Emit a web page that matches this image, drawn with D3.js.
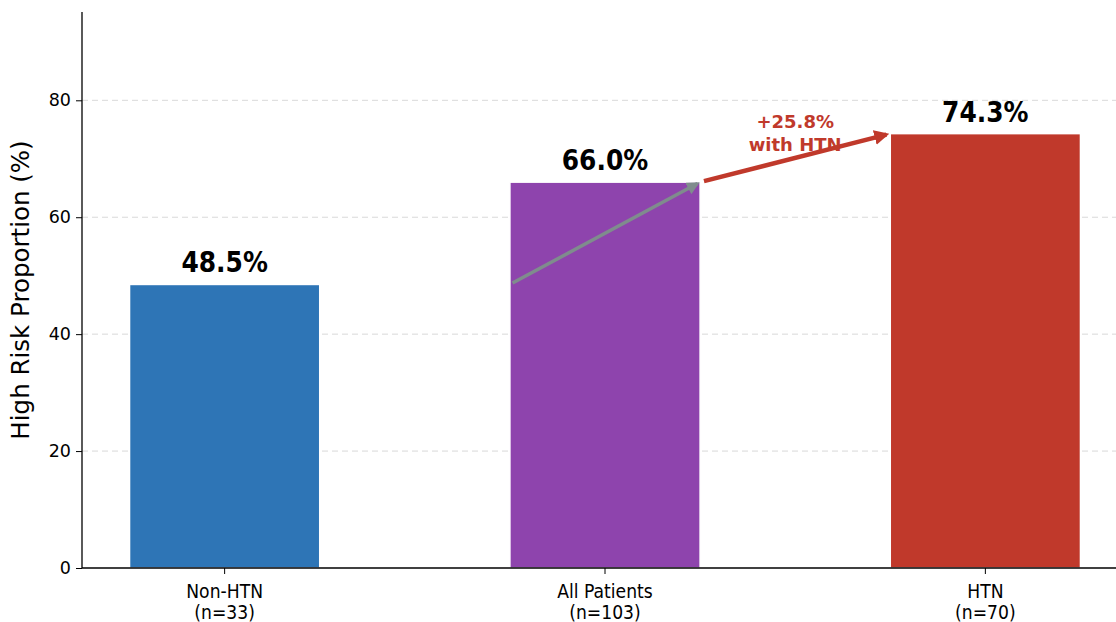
<!DOCTYPE html>
<html lang="en">
<head>
<meta charset="utf-8" />
<title>High risk proportion</title>
<script src="https://cdn.jsdelivr.net/npm/d3@7"></script>
<style>
	body { margin:0; background:#fff; }
	text { font-family:"DejaVu Sans", sans-serif; }
</style>
</head>
<body>
<script>
// data
var groups = ['Non-HTN', 'All Patients', 'HTN'];
var counts = ['(n=33)', '(n=103)', '(n=70)'];
var values = [48.5, 66.0, 74.3];
var colors = ['#2e75b6', '#8e44ad', '#c0392b'];
var yTicks = [0, 20, 40, 60, 80];
var diffText = ['+25.8%', 'with HTN'];

var W = 1116, H = 622;
var padL = 82, padT = 12, padB = 568;

var svg = d3.select('body').append('svg')
	.attr('width', W)
	.attr('height', H);

var x = d3.scaleLinear().domain([-0.375, 2.375]).range([padL, 1128]);
var y = d3.scaleLinear().domain([0, d3.max(values) * 1.28]).range([padB, padT]);
var barW = 0.5;

// grid
svg.append('g').selectAll('line')
	.data(yTicks.filter(function(d) { return d > 0; }))
	.enter().append('line')
	.attr('x1', padL).attr('x2', W)
	.attr('y1', function(d) { return y(d); })
	.attr('y2', function(d) { return y(d); })
	.attr('stroke', '#d9d9d9')
	.attr('stroke-width', 1)
	.attr('stroke-dasharray', '6,4');

// bars
svg.append('g').selectAll('rect')
	.data(values)
	.enter().append('rect')
	.attr('x', function(d, i) { return x(i - barW / 2); })
	.attr('width', x(barW) - x(0))
	.attr('y', function(d) { return y(d); })
	.attr('height', function(d) { return y(0) - y(d); })
	.attr('fill', function(d, i) { return colors[i]; })
	.attr('stroke', '#fff')
	.attr('stroke-width', 1.5);

// value labels
svg.append('g').selectAll('text')
	.data(values)
	.enter().append('text')
	.attr('transform', function(d, i) { return 'translate(' + x(i) + ',' + (y(d) - 12) + ') scale(0.86,1)'; })
	.attr('text-anchor', 'middle')
	.style('font-size', '29px')
	.style('font-weight', 'bold')
	.attr('fill', '#000')
	.text(function(d) { return d.toFixed(1) + '%'; });

// arrows
var defs = svg.append('defs');
function marker(id, col, w) {
	defs.append('marker')
		.attr('id', id)
		.attr('viewBox', '0 0 10 10')
		.attr('refX', 8).attr('refY', 5)
		.attr('markerWidth', w).attr('markerHeight', w)
		.attr('markerUnits', 'userSpaceOnUse')
		.attr('orient', 'auto')
		.append('path')
		.attr('d', 'M0,0 L10,5 L0,10 z')
		.attr('fill', col);
}
marker('hg', '#7f8c8d', 13);
marker('hr', '#c0392b', 15);

function arrow(x1, y1, x2, y2, shrink, col, sw, m) {
	var dx = x2 - x1, dy = y2 - y1, L = Math.sqrt(dx * dx + dy * dy);
	svg.append('line')
		.attr('x1', x1 + dx / L * shrink).attr('y1', y1 + dy / L * shrink)
		.attr('x2', x2 - dx / L * shrink).attr('y2', y2 - dy / L * shrink)
		.attr('stroke', col)
		.attr('stroke-width', sw)
		.attr('marker-end', 'url(#' + m + ')');
}
arrow(x(1 - barW / 2), y(values[0]), x(1 + barW / 2), y(values[1]), 3, '#7f8c8d', 3.5, 'hg');
arrow(x(1 + barW / 2), y(values[1]), x(2 - barW / 2), y(values[2]), 4, '#c0392b', 4.5, 'hr');

// annotation
var ann = svg.append('text')
	.attr('x', x(1.5))
	.attr('y', y((values[1] + values[2]) / 2 + 5) - 1)
	.attr('text-anchor', 'middle')
	.attr('fill', '#c0392b')
	.style('font-size', '18px')
	.style('font-weight', 'bold');
ann.selectAll('tspan').data(diffText).enter().append('tspan')
	.attr('x', x(1.5))
	.attr('dy', function(d, i) { return i ? 23 : 0; })
	.text(function(d) { return d; });

// axes
var yAxis = svg.append('g')
	.attr('transform', 'translate(' + padL + ',0)')
	.call(d3.axisLeft(y).tickValues(yTicks).tickSize(6).tickPadding(5));
yAxis.select('.domain').remove();
yAxis.selectAll('text').style('font-size', '17.5px').attr('fill', '#000').attr('font-family', 'DejaVu Sans');
yAxis.selectAll('line').attr('stroke', '#000');

svg.append('line')
	.attr('x1', padL).attr('x2', padL)
	.attr('y1', padT).attr('y2', padB)
	.attr('stroke', '#000').attr('stroke-width', 1.3);
svg.append('line')
	.attr('x1', padL).attr('x2', W)
	.attr('y1', padB).attr('y2', padB)
	.attr('stroke', '#000').attr('stroke-width', 1.3);

var xt = svg.append('g').selectAll('g')
	.data(groups)
	.enter().append('g')
	.attr('transform', function(d, i) { return 'translate(' + x(i) + ',' + padB + ')'; });
xt.append('line').attr('y1', 0).attr('y2', 6).attr('stroke', '#000');
xt.append('text')
	.attr('transform', 'translate(0,30) scale(0.86,1)')
	.attr('text-anchor', 'middle')
	.style('font-size', '20px')
	.text(function(d) { return d; });
xt.append('text')
	.attr('transform', 'translate(0,51) scale(0.86,1)')
	.attr('text-anchor', 'middle')
	.style('font-size', '20px')
	.text(function(d, i) { return counts[i]; });

// y label
svg.append('text')
	.attr('transform', 'translate(29,' + ((padT + padB) / 2) + ') rotate(-90)')
	.attr('text-anchor', 'middle')
	.style('font-size', '24.5px')
	.text('High Risk Proportion (%)');
</script>
</body>
</html>
